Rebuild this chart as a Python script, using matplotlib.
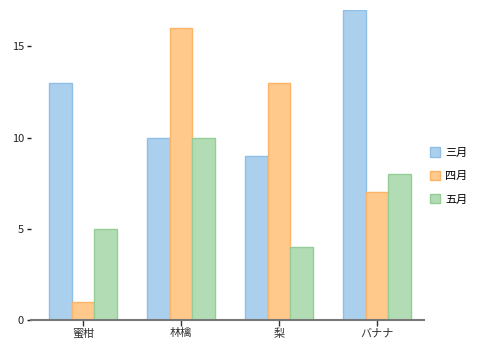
import matplotlib.pyplot as plt
import numpy as np

plt.rcParams['font.family'] = ['Noto Sans CJK JP', 'DejaVu Sans']

categories = ['蜜柑', '林檎', '梨', 'バナナ']
series_names = ['三月', '四月', '五月']
march = [13, 10, 9, 17]
april = [1, 16, 13, 7]
may = [5, 10, 4, 8]

fills = ['#abd0ee', '#fec98b', '#b2dcb4']
edges = ['#8fbfe6', '#fbb468', '#95cd98']

fig = plt.figure(figsize=(4.81, 3.52), dpi=100)
ax = fig.add_axes([31 / 481, 32 / 352, 393 / 481, 310 / 352])

x = np.arange(len(categories))
w = 0.231
for i, (vals, name) in enumerate(zip([march, april, may], series_names)):
    ax.bar(x + (i - 1) * w, vals, w, color=fills[i], edgecolor=edges[i],
           linewidth=1, label=name)

ax.set_xlim(-0.531, 3.48)
ax.set_ylim(0, 17)
ax.set_xticks(x)
ax.set_xticklabels(categories, fontsize=8, color='#333333')
ax.set_yticks([0, 5, 10, 15])
ax.tick_params(axis='y', length=3, width=1, labelsize=8, pad=2, colors='#222222')
ax.tick_params(axis='x', length=4, width=1, pad=2, color='#333333')

for s in ['top', 'right', 'left']:
    ax.spines[s].set_visible(False)
ax.spines['bottom'].set_color('#777777')
ax.spines['bottom'].set_linewidth(1.5)

leg = ax.legend(loc='center left', bbox_to_anchor=(1.0, 0.4645), frameon=False,
                fontsize=8, handlelength=0.9, handleheight=0.9,
                handletextpad=0.5, labelspacing=1.17, borderaxespad=0.1)

fig.savefig('out.png', dpi=100)
